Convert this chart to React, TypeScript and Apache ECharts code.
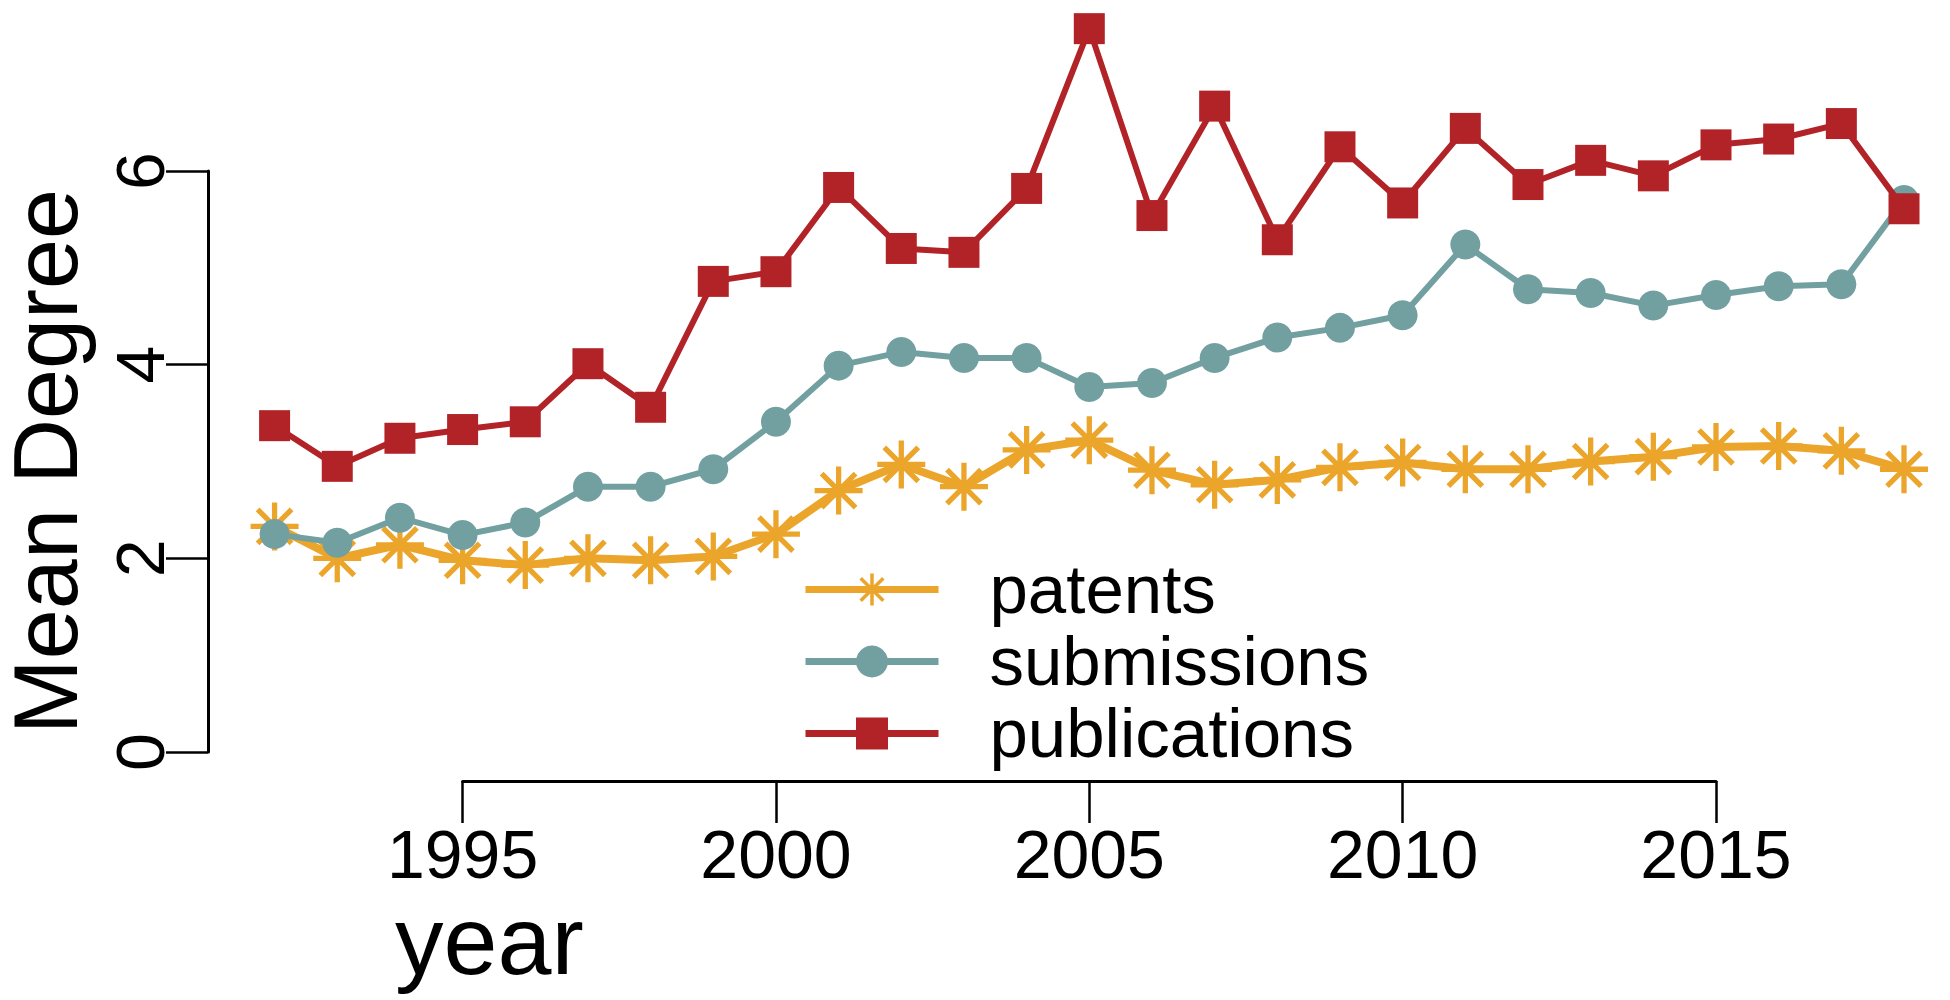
import React, { useEffect, useRef } from "react";
import * as echarts from "echarts";

const years = [1992, 1993, 1994, 1995, 1996, 1997, 1998, 1999, 2000, 2001, 2002, 2003, 2004, 2005, 2006, 2007, 2008, 2009, 2010, 2011, 2012, 2013, 2014, 2015, 2016, 2017, 2018];
const patents = [2.33, 2.0, 2.14, 1.98, 1.93, 2.0, 1.98, 2.02, 2.25, 2.7, 2.97, 2.74, 3.12, 3.22, 2.91, 2.76, 2.81, 2.94, 2.99, 2.92, 2.92, 3.0, 3.05, 3.15, 3.16, 3.11, 2.92];
const submissions = [2.25, 2.16, 2.42, 2.24, 2.37, 2.74, 2.74, 2.92, 3.41, 3.99, 4.13, 4.07, 4.07, 3.77, 3.81, 4.07, 4.28, 4.38, 4.51, 5.24, 4.78, 4.74, 4.61, 4.72, 4.81, 4.83, 5.7];
const publications = [3.37, 2.95, 3.24, 3.33, 3.41, 4.01, 3.56, 4.86, 4.96, 5.83, 5.2, 5.16, 5.82, 7.47, 5.54, 6.67, 5.29, 6.25, 5.67, 6.44, 5.86, 6.11, 5.95, 6.27, 6.33, 6.49, 5.61];
const seriesNames = ["patents", "submissions", "publications"];
const yTicks = { min: 0, max: 6, interval: 2 };
const xTicks = { min: 1995, max: 2015, interval: 5 };

const ORANGE = "#EBA52B";
const TEAL = "#72A0A1";
const RED = "#B22328";
const FONT = "'Liberation Sans', Arial, Helvetica, sans-serif";

function starPath(): string {
  const w = 11;
  const L = 100;
  let d = "";
  [0, 45, 90, 135].forEach((deg) => {
    const a = (deg * Math.PI) / 180;
    const dx = Math.cos(a), dy = Math.sin(a);
    const nx = -dy, ny = dx;
    const pts = [
      [-dx * L - nx * w, -dy * L - ny * w],
      [dx * L - nx * w, dy * L - ny * w],
      [dx * L + nx * w, dy * L + ny * w],
      [-dx * L + nx * w, -dy * L + ny * w],
    ].map(([x, y]) => [(x + 100).toFixed(2), (y + 100).toFixed(2)]);
    d += `M${pts[0][0]} ${pts[0][1]}L${pts[1][0]} ${pts[1][1]}L${pts[2][0]} ${pts[2][1]}L${pts[3][0]} ${pts[3][1]}Z`;
  });
  return "path://" + d;
}

export default function App() {
  const ref = useRef<HTMLDivElement>(null);
  useEffect(() => {
    if (!ref.current) return;
    const chart = echarts.init(ref.current, null, { renderer: "svg" });
    // pixel scale: 1995 -> 462.6, 2015 -> 1716
    const px1995 = 462.6;
    const px2015 = 1716;
    const perYear = (px2015 - px1995) / (xTicks.max - xTicks.min);
    const firstYear = years[0];
    const lastYear = years[years.length - 1];
    const mainLeft = px1995 - (xTicks.min - firstYear) * perYear;
    const mainRightEdge = px2015 + (lastYear - xTicks.max) * perYear;
    const mainRight = 1950 - mainRightEdge;
    const yAxisX = 208;
    const mk = (name: string, vals: number[], color: string, symbol: string, size: number, width: number, z: number) => ({
      type: "line",
      name,
      xAxisIndex: 0,
      yAxisIndex: 0,
      data: years.map((y, i) => [y, vals[i]]),
      symbol,
      symbolSize: size,
      showSymbol: true,
      clip: false,
      z,
      lineStyle: { color, width },
      itemStyle: { color, opacity: 1 },
      emphasis: { disabled: true },
    });
    chart.setOption({
      animation: false,
      backgroundColor: "#ffffff",
      textStyle: { fontFamily: FONT },
      grid: [
        { left: mainLeft, right: mainRight, top: 171, bottom: 248, containLabel: false, outerBoundsMode: "none" },
        { left: px1995, right: 1950 - px2015, top: 700, bottom: 219, containLabel: false, outerBoundsMode: "none" },
      ],
      xAxis: [
        { type: "value", gridIndex: 0, min: firstYear, max: lastYear, show: false },
        {
          type: "value",
          gridIndex: 1,
          min: xTicks.min,
          max: xTicks.max,
          interval: xTicks.interval,
          axisLine: { show: true, onZero: false, lineStyle: { color: "#000", width: 3 } },
          axisTick: { show: true, length: 42, lineStyle: { color: "#000", width: 2.5 } },
          axisLabel: { fontSize: 68, color: "#000", margin: 39, fontFamily: FONT, formatter: (v: number) => String(v) },
          splitLine: { show: false },
        },
      ],
      yAxis: [
        {
          type: "value",
          gridIndex: 0,
          min: yTicks.min,
          max: yTicks.max,
          interval: yTicks.interval,
          offset: mainLeft - yAxisX,
          axisLine: { show: true, onZero: false, lineStyle: { color: "#000", width: 3 } },
          axisTick: { show: true, length: 42, lineStyle: { color: "#000", width: 2.5 } },
          axisLabel: { fontSize: 68, color: "#000", margin: 34, rotate: 90, fontFamily: FONT },
          splitLine: { show: false },
          name: "Mean Degree",
          nameLocation: "middle",
          nameRotate: 90,
          nameGap: 127,
          nameTextStyle: { fontSize: 90, lineHeight: 70, color: "#000", fontFamily: FONT },
        },
        { type: "value", gridIndex: 1, show: false },
      ],
      legend: {
        orient: "vertical",
        left: 797,
        top: 550,
        itemWidth: 133,
        itemHeight: 40,
        itemGap: 3,
        selectedMode: false,
        data: seriesNames,
        lineStyle: { width: 7 },
        textStyle: { fontSize: 69, color: "#000", padding: [0, 0, 0, 46], fontFamily: FONT },
      },
      graphic: [
        {
          type: "text",
          x: 395,
          y: 940,
          style: { text: "year", fontSize: 97, fill: "#000", fontFamily: FONT, align: "left", verticalAlign: "middle" },
        },
      ],
      series: [
        mk(seriesNames[0], patents, ORANGE, starPath(), 48, 8, 2),
        mk(seriesNames[1], submissions, TEAL, "circle", 30, 6, 3),
        mk(seriesNames[2], publications, RED, "rect", 31, 6, 4),
      ],
    });
    return () => chart.dispose();
  }, []);
  return (
    <div
      ref={ref}
      style={{ position: "absolute", left: 0, top: 0, width: 1950, height: 1000, background: "#fff" }}
    />
  );
}
